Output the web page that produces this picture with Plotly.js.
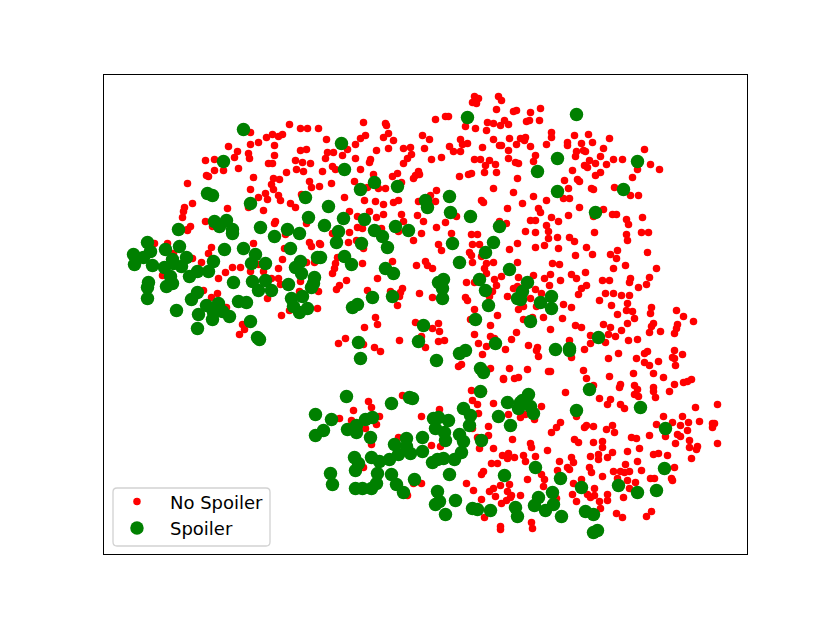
<!DOCTYPE html>
<html>
<head>
<meta charset="utf-8">
<script src="https://cdn.plot.ly/plotly-3.0.1.min.js"></script>
<style>html,body{margin:0;padding:0;background:#fff}#chart{width:830px;height:623px}</style>
</head>
<body>
<div id="chart"></div>
<script>
const seriesNames = ["No Spoiler", "Spoiler"];
const noSpoiler = [
[250,132],[289,124],[300,128],[307,128],[282,134],[272,134],[278,136],[266,137],[258,142],[250,144],[274,145],[228,146],[237,151],[248,153],[234,157],[249,158],[274,155],[300,150],[306,149],[205,160],[214,159],[295,160],[302,162],[310,163],[268,163],[272,163],[214,170],[223,170],[238,168],[296,169],[303,171],[286,172],[206,175],[208,176],[253,177],[273,178],[279,179],[187,183],[309,181],[271,184],[311,187],[273,189],[250,189],[265,193],[278,195],[258,197],[267,199],[280,200],[301,194],[192,203],[290,203],[295,207],[184,207],[183,211],[248,207],[227,208],[263,210],[182,217],[205,221],[275,221],[274,223],[306,223],[190,226],[187,229],[285,234],[212,226],
[474,96],[478,98],[472,102],[476,103],[498,96],[501,100],[496,109],[513,111],[516,110],[445,116],[448,116],[435,119],[363,122],[385,123],[386,125],[318,128],[465,126],[475,128],[487,122],[493,123],[500,125],[504,120],[508,124],[486,130],[388,133],[365,135],[360,138],[383,137],[422,135],[326,139],[429,139],[393,140],[493,139],[509,138],[355,144],[460,139],[467,143],[462,144],[499,145],[501,145],[516,144],[449,146],[410,147],[403,148],[388,148],[424,148],[347,149],[376,150],[482,147],[508,150],[327,152],[333,152],[453,151],[460,151],[411,154],[342,155],[325,158],[355,158],[431,159],[441,157],[474,159],[480,159],[489,160],[508,158],[407,158],[370,159],[369,162],[403,163],[495,164],[515,162],[518,163],[332,166],[335,169],[360,169],[322,171],[485,165],[484,172],[496,172],[418,171],[397,173],[373,174],[392,176],[419,174],[415,175],[413,178],[459,176],[468,174],[471,173],[517,178],[354,181],[331,183],[319,186],[367,187],[378,188],[385,188],[401,182],[436,190],[493,188],[513,192],[430,195],[344,197],[364,200],[375,201],[393,202],[398,200],[418,201],[435,201],[481,200],[483,202],[383,204],[369,211],[349,211],[507,208],[357,216],[376,217],[383,214],[401,214],[417,215],[456,216],[403,221],[423,221],[445,222],[499,221],[506,223],[357,227],[362,228],[381,228],[436,227],[349,232],[332,233],[421,233],[451,233],[471,234],[477,234],[398,231],[413,240],
[530,112],[540,108],[526,121],[529,120],[539,120],[551,132],[551,137],[520,138],[525,137],[524,140],[574,135],[588,134],[609,138],[546,144],[567,142],[567,145],[581,143],[592,142],[530,146],[603,148],[644,149],[576,151],[583,150],[585,151],[535,155],[575,156],[600,156],[613,159],[622,159],[533,161],[589,160],[595,163],[606,164],[584,165],[587,167],[650,164],[659,169],[637,169],[572,170],[600,172],[595,175],[632,177],[564,180],[577,179],[579,181],[568,188],[591,188],[593,189],[614,187],[630,195],[638,195],[533,196],[563,198],[569,198],[546,200],[522,203],[579,207],[538,208],[540,212],[603,209],[612,214],[616,214],[568,215],[551,217],[530,220],[535,220],[558,221],[626,219],[628,224],[642,217],[546,225],[525,231],[535,232],[548,231],[594,232],[626,234],[641,232],[648,232],[548,238],[557,237],[569,237],[574,241],[627,240],[593,216],
[154,243],[167,243],[173,253],[211,247],[208,253],[253,243],[284,248],[309,242],[311,246],[319,243],[192,258],[201,262],[282,259],[306,262],[314,262],[232,267],[240,267],[225,272],[278,268],[250,271],[263,271],[162,275],[218,278],[271,278],[278,278],[280,284],[300,281],[258,264],[203,290],[217,293],[211,297],[267,298],[299,291],[318,291],[226,307],[289,310],[317,308],[281,315],[242,324],[244,329],[239,334],[187,230],
[320,244],[348,242],[356,240],[363,248],[438,244],[441,250],[472,244],[479,244],[517,243],[509,249],[469,252],[471,255],[481,256],[493,262],[472,262],[337,257],[362,263],[392,261],[335,263],[334,268],[332,273],[416,265],[425,261],[427,265],[432,268],[486,263],[484,268],[486,273],[517,262],[501,276],[346,280],[377,278],[494,279],[466,282],[496,285],[474,282],[518,277],[339,285],[336,289],[367,290],[390,291],[402,288],[400,292],[399,296],[419,293],[432,297],[492,291],[507,296],[513,288],[517,286],[465,297],[467,300],[489,296],[397,305],[474,309],[518,309],[497,315],[375,317],[377,324],[364,327],[415,322],[438,323],[432,328],[439,331],[490,325],[470,319],[474,334],[516,332],[421,336],[399,340],[444,340],[438,341],[478,343],[490,336],[494,338],[511,339],[345,338],[338,343],[363,344],[374,347],[380,351],[425,347],[486,346],[505,349],[482,354],[458,366],[461,364],[490,368],[509,368],[503,378],[514,378],[518,377],
[544,245],[535,247],[558,248],[586,247],[592,254],[575,255],[647,252],[617,250],[610,254],[616,258],[552,263],[559,264],[625,265],[613,268],[656,268],[585,272],[550,274],[571,274],[533,275],[576,278],[544,278],[560,280],[630,278],[629,282],[649,277],[646,284],[638,287],[602,280],[609,280],[586,285],[581,288],[549,285],[535,289],[578,294],[605,293],[613,293],[621,295],[629,295],[541,293],[530,298],[599,300],[627,303],[611,305],[563,304],[571,307],[536,306],[523,306],[626,310],[632,311],[651,307],[650,313],[676,310],[683,316],[693,321],[617,314],[634,318],[562,318],[543,317],[523,319],[532,317],[627,323],[653,323],[651,326],[603,324],[610,327],[575,325],[581,327],[677,324],[676,328],[674,333],[660,331],[649,332],[621,330],[550,329],[590,335],[608,334],[615,336],[628,340],[637,339],[605,342],[590,343],[569,340],[528,345],[537,347],[536,350],[584,349],[538,356],[571,357],[674,350],[647,351],[644,353],[682,354],[618,353],[608,358],[636,358],[672,357],[674,358],[658,361],[644,362],[649,365],[675,365],[583,370],[527,369],[548,371],[550,371],[633,373],[653,373],[609,376],[663,377],[586,378],[691,379],[687,381],[683,382],[674,384],[620,384],[619,387],[634,385],[637,389],[653,387],[653,391],[669,391],[634,394],[638,396],[655,397],[565,392],[593,385],[599,398],[610,399],
[402,395],[368,401],[371,407],[353,410],[339,418],[351,420],[379,416],[376,424],[365,428],[421,416],[439,409],[471,390],[483,391],[503,379],[472,400],[477,404],[493,403],[478,413],[488,426],[488,435],[398,437],[371,444],[431,445],[440,446],[479,448],[493,448],[502,455],[508,453],[507,458],[491,463],[497,463],[363,467],[483,471],[481,474],[413,483],[421,483],[466,483],[473,490],[493,488],[489,491],[500,485],[509,484],[507,491],[495,496],[407,495],[481,499],[501,503],[506,500],[484,517],[500,526],[500,529],[510,497],[472,428],[477,437],
[607,404],[620,404],[624,408],[695,407],[717,404],[541,406],[576,416],[508,414],[520,417],[525,414],[534,419],[663,416],[682,416],[699,421],[560,422],[672,422],[680,425],[688,422],[656,424],[556,427],[551,432],[584,427],[586,425],[593,426],[612,425],[606,429],[614,432],[712,423],[714,423],[712,427],[687,430],[677,434],[680,436],[665,436],[649,435],[631,437],[636,438],[512,439],[574,439],[578,442],[593,442],[602,441],[602,447],[675,443],[717,443],[689,440],[689,447],[697,446],[696,449],[530,443],[531,447],[547,450],[639,448],[627,451],[612,452],[653,454],[658,453],[667,455],[514,457],[523,455],[525,461],[535,456],[571,457],[573,462],[590,456],[598,454],[598,459],[607,457],[691,458],[559,461],[637,461],[625,464],[589,467],[567,467],[569,469],[557,470],[591,472],[674,467],[613,471],[620,471],[624,472],[629,471],[641,470],[541,474],[544,479],[602,476],[650,478],[654,478],[671,478],[672,480],[527,479],[581,479],[627,480],[635,482],[617,478],[573,483],[543,486],[594,488],[629,488],[511,495],[520,495],[572,494],[587,494],[590,497],[594,495],[607,494],[607,500],[623,497],[576,501],[556,498],[599,501],[600,508],[616,513],[622,517],[651,511],[646,516],[531,522],[532,528]
];
const spoiler = [
[243,129],[223,161],[207,193],[212,195],[250,203],[305,197],[308,217],[214,221],[226,220],[219,226],[232,229],[232,233],[178,229],[260,227],[274,236],[287,229],[299,233],[147,242],
[341,143],[344,169],[467,117],[374,182],[360,189],[397,186],[449,196],[425,200],[427,207],[450,212],[328,206],[343,218],[364,219],[324,225],[338,231],[470,216],[499,226],[395,226],[408,230],[374,230],[382,236],[493,242],[452,243],[336,242],[361,243],
[576,114],[637,161],[557,158],[537,171],[623,189],[557,191],[595,212],
[133,254],[150,251],[143,257],[134,264],[152,265],[165,249],[179,246],[172,259],[164,267],[173,263],[181,266],[186,257],[170,276],[172,283],[166,286],[148,282],[147,287],[147,298],[176,310],[189,276],[197,271],[208,271],[213,261],[224,249],[243,248],[255,254],[251,263],[265,263],[233,282],[252,281],[265,280],[258,290],[271,290],[288,284],[290,248],[300,261],[295,267],[301,273],[317,257],[314,277],[311,287],[291,298],[302,296],[293,306],[299,312],[307,308],[197,292],[191,299],[206,305],[218,303],[198,314],[212,319],[213,312],[222,311],[229,316],[238,301],[246,302],[250,321],[197,328],[257,337],[259,339],
[320,257],[344,256],[351,264],[387,247],[485,252],[459,262],[385,268],[393,273],[509,269],[443,279],[438,282],[442,288],[442,298],[479,279],[485,290],[517,298],[372,297],[392,296],[313,283],[357,304],[352,307],[488,305],[475,319],[423,325],[358,342],[418,341],[495,343],[360,358],[436,360],[459,353],[465,350],[480,368],[483,372],
[527,282],[522,291],[520,299],[540,302],[551,296],[551,308],[530,321],[598,337],[555,349],[569,348],[569,350],[589,389],[528,394],[522,400],
[346,396],[391,403],[409,397],[412,398],[315,414],[331,419],[347,429],[323,430],[315,435],[356,425],[356,432],[365,419],[372,417],[370,437],[463,408],[470,415],[469,425],[433,418],[438,417],[448,420],[435,428],[444,432],[445,440],[480,391],[507,402],[498,416],[510,425],[459,434],[463,441],[481,440],[422,437],[406,438],[394,444],[406,446],[410,453],[422,451],[398,454],[461,452],[454,459],[443,458],[437,459],[432,462],[389,459],[371,457],[379,461],[354,457],[358,463],[355,470],[377,473],[376,483],[371,488],[362,488],[355,488],[391,474],[396,484],[403,492],[414,479],[330,473],[332,484],[449,474],[437,491],[439,501],[435,504],[455,500],[445,514],[472,508],[477,509],[490,510],[504,475],
[576,410],[640,407],[520,402],[518,408],[530,406],[533,413],[665,428],[535,467],[560,478],[664,468],[581,487],[618,485],[637,492],[656,490],[552,492],[538,497],[534,505],[553,504],[545,510],[515,507],[517,516],[561,516],[585,511],[593,514],[593,532],[597,530]
];
const xRange = [103.5, 746.5];
const yRange = [553.5, 74.5];
const legendFrame = "M116.5,487.5 L265.5,487.5 Q269.5,487.5 269.5,491.5 L269.5,541.5 Q269.5,545.5 265.5,545.5 L116.5,545.5 Q112.5,545.5 112.5,541.5 L112.5,491.5 Q112.5,487.5 116.5,487.5 Z";
const traces = [
  {x: noSpoiler.map(p => p[0]), y: noSpoiler.map(p => p[1]), name: seriesNames[0], mode: "markers", type: "scatter",
   marker: {color: "#ff0000", size: 7.5}},
  {x: spoiler.map(p => p[0]), y: spoiler.map(p => p[1]), name: seriesNames[1], mode: "markers", type: "scatter",
   marker: {color: "#008000", size: 13.5}}
];
const hiddenAxis = {showgrid: false, zeroline: false, showticklabels: false, ticks: "", showline: true, mirror: true, linecolor: "#000000", linewidth: 1.3};
const layout = {
  width: 830, height: 623, paper_bgcolor: "#ffffff", plot_bgcolor: "#ffffff",
  margin: {l: 104, r: 83, t: 75, b: 69, pad: 0},
  font: {family: "DejaVu Sans", size: 18, color: "#000000"},
  xaxis: Object.assign({range: xRange}, hiddenAxis),
  yaxis: Object.assign({range: yRange}, hiddenAxis),
  shapes: [{type: "path", xref: "x", yref: "y", layer: "above", path: legendFrame, fillcolor: "rgba(255,255,255,0.8)", line: {color: "#d2d2d2", width: 1.3}}],
  showlegend: true,
  legend: {x: 0.0124, y: 0.0159, xanchor: "left", yanchor: "bottom", bgcolor: "rgba(0,0,0,0)", borderwidth: 0, itemwidth: 56, indentation: -8, traceorder: "normal", font: {family: "DejaVu Sans", size: 18, color: "#000000"}}
};
Plotly.newPlot("chart", traces, layout, {displayModeBar: false, staticPlot: true});
</script>
</body>
</html>
